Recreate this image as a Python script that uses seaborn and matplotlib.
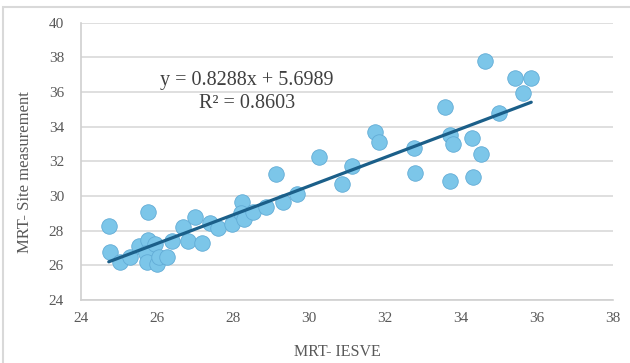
import numpy as np
import pandas as pd
import matplotlib
matplotlib.use("Agg")
import matplotlib.pyplot as plt
import seaborn as sns
from matplotlib.patches import Rectangle

# --- data ---
mrt_iesve = [24.74, 24.77, 25.03, 25.29, 25.53, 25.78, 25.76, 25.73, 25.75, 25.95,
             26.02, 26.06, 26.26, 26.41, 26.69, 26.83, 27.01, 27.19, 27.39, 27.62,
             27.99, 28.25, 28.23, 28.30, 28.53, 28.88, 29.13, 29.32, 29.70, 30.28,
             30.88, 31.14, 31.75, 31.84, 32.77, 32.79, 33.58, 33.71, 33.80, 33.71,
             34.28, 34.54, 34.32, 34.63, 35.01, 35.42, 35.85, 35.64]
mrt_site = [28.29, 26.79, 26.17, 26.46, 27.12, 29.08, 27.46, 26.69, 26.17, 27.21,
            26.06, 26.50, 26.50, 27.42, 28.19, 27.38, 28.77, 27.27, 28.42, 28.15,
            28.38, 29.67, 29.00, 28.67, 29.08, 29.38, 31.29, 29.67, 30.10, 32.23,
            30.69, 31.75, 33.71, 33.13, 32.75, 31.31, 35.12, 33.52, 33.00, 30.88,
            33.33, 32.40, 31.12, 37.81, 34.81, 36.79, 36.79, 35.92]
slope = 0.8288
intercept = 5.6989
r_squared = 0.8603
x_ticks = [24, 26, 28, 30, 32, 34, 36, 38]
y_ticks = [24, 26, 28, 30, 32, 34, 36, 38, 40]

df = pd.DataFrame({"iesve": mrt_iesve, "site": mrt_site})

sns.set_style("white")
plt.rcParams["font.family"] = ["Liberation Serif", "DejaVu Serif"]

fig = plt.figure(figsize=(6.3, 3.63), dpi=100)
ax = fig.add_axes([0.128, 0.1736, 0.845, 0.7639])

# outer chart border (cropped on right/bottom like the reference)
fig.patches.append(Rectangle((3 / 630, -0.2), 1.3, 1.2 - 7 / 363,
                             transform=fig.transFigure, fill=False,
                             edgecolor="#d9d9d9", lw=1.5, zorder=0))

for yv in y_ticks:
    ax.axhline(yv, color="#d9d9d9", lw=1.2, zorder=0)

sns.scatterplot(data=df, x="iesve", y="site", ax=ax, s=125,
                color="#7cc6e9", edgecolor="#62acd6", linewidth=0.6, zorder=3)

xs = np.array([min(mrt_iesve), max(mrt_iesve)])
ax.plot(xs, slope * xs + intercept, color="#1b5f89", lw=2.3, zorder=4)

ax.set_xlim(24, 38)
ax.set_ylim(24, 40)
ax.set_xticks(x_ticks)
ax.set_yticks(y_ticks)
ax.tick_params(axis="both", length=0, labelsize=11, labelcolor="#595959")
ax.tick_params(axis="x", pad=9)
ax.tick_params(axis="y", pad=12)

for side in ["top", "right"]:
    ax.spines[side].set_visible(False)
for side in ["left", "bottom"]:
    ax.spines[side].set_color("#d0d0d0")
    ax.spines[side].set_linewidth(1.2)

ax.set_xlabel("MRT- IESVE", fontsize=11.5, color="#595959")
ax.set_ylabel("MRT- Site measurement", fontsize=12, color="#595959")
ax.xaxis.set_label_coords(0.483, -0.160)
ax.yaxis.set_label_coords(-0.09, 0.463)

ax.text(0.312, 0.793, f"y = {slope}x + {intercept}", transform=ax.transAxes,
        ha="center", va="center", fontsize=14.5, color="#404040")
ax.text(0.312, 0.710, f"R² = {r_squared}", transform=ax.transAxes,
        ha="center", va="center", fontsize=14.5, color="#404040")

fig.savefig("out.png", dpi=100)
